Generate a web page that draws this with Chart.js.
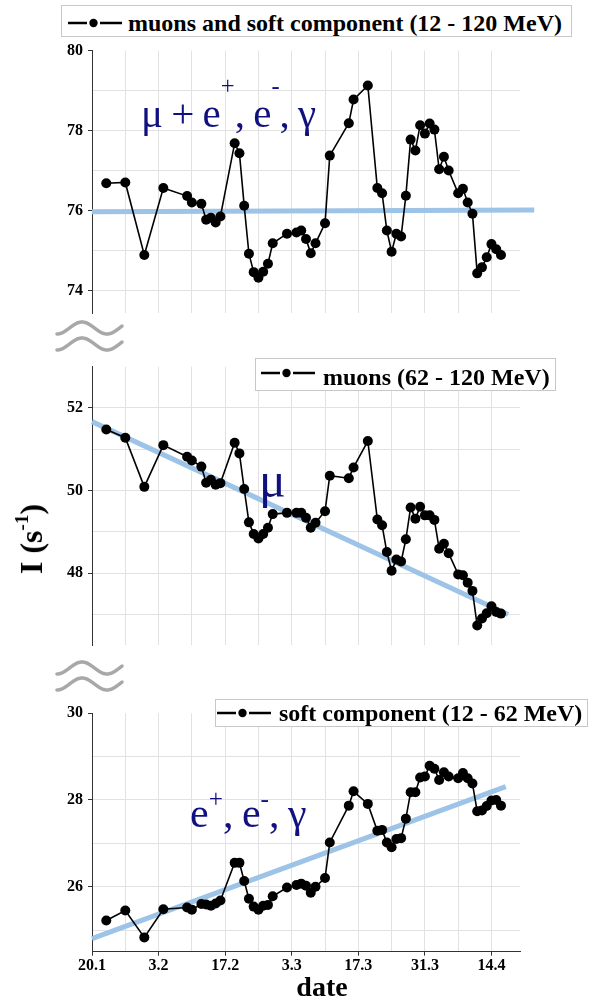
<!DOCTYPE html>
<html>
<head>
<meta charset="utf-8">
<script src="https://cdn.jsdelivr.net/npm/chart.js@4.4.1/dist/chart.umd.min.js"></script>
<style>
html,body{margin:0;padding:0;background:#fff;}
#wrap{position:relative;width:600px;height:1003px;overflow:hidden;font-family:"Liberation Serif","Times New Roman",serif;}
canvas{position:absolute;left:0;}
.lg{position:absolute;box-sizing:border-box;border:1px solid #c8c8c8;background:#fff;}
.lgt{position:absolute;font-weight:bold;font-size:24px;line-height:1;white-space:nowrap;color:#000;}
.sym{position:absolute;}
.ann{position:absolute;color:#10107f;font-family:"Liberation Serif","DejaVu Serif",serif;line-height:1;white-space:nowrap;word-spacing:-2px;}
.ann sup{font-size:0.6em;position:relative;vertical-align:baseline;line-height:0;}
#ytitle{position:absolute;left:31px;top:539px;transform:translate(-50%,-50%) rotate(-90deg);font-weight:bold;font-size:32px;line-height:1;white-space:nowrap;color:#000;}
#ytitle sup{font-size:0.6em;position:relative;top:-0.75em;vertical-align:baseline;line-height:0;}
#xtitle{position:absolute;left:322px;top:973px;transform:translateX(-50%);font-weight:bold;font-size:28px;line-height:1;color:#000;}
#breaks{position:absolute;left:0;top:0;}
</style>
</head>
<body>
<div id="wrap">
<canvas id="c1" width="600" height="330" style="top:0px"></canvas>
<canvas id="c2" width="600" height="320" style="top:340px"></canvas>
<canvas id="c3" width="600" height="343" style="top:660px"></canvas>
<svg id="breaks" width="600" height="1003"></svg>

<div class="lg" style="left:61px;top:5px;width:511px;height:32px"></div>
<svg class="sym" style="left:68px;top:17px" width="56" height="12"><line x1="0" y1="6" x2="19" y2="6" stroke="#000" stroke-width="2.5"/><circle cx="25.5" cy="6" r="4.2" fill="#000"/><line x1="32" y1="6" x2="54" y2="6" stroke="#000" stroke-width="2.5"/></svg>
<div class="lgt" id="lg1" style="left:128px;top:11px"></div>

<div class="lg" style="left:255px;top:358px;width:301px;height:33px"></div>
<svg class="sym" style="left:261px;top:367px" width="56" height="12"><line x1="0" y1="6" x2="19" y2="6" stroke="#000" stroke-width="2.5"/><circle cx="25.5" cy="6" r="4.2" fill="#000"/><line x1="32" y1="6" x2="54" y2="6" stroke="#000" stroke-width="2.5"/></svg>
<div class="lgt" id="lg2" style="left:323px;top:365px"></div>

<div class="lg" style="left:215px;top:699px;width:373px;height:28px"></div>
<svg class="sym" style="left:217px;top:707px" width="56" height="12"><line x1="0" y1="6" x2="19" y2="6" stroke="#000" stroke-width="2.5"/><circle cx="25.5" cy="6" r="4.2" fill="#000"/><line x1="32" y1="6" x2="54" y2="6" stroke="#000" stroke-width="2.5"/></svg>
<div class="lgt" id="lg3" style="left:279px;top:701px"></div>

<div class="ann" style="left:141px;top:93px;font-size:41px">μ + e<sup style="top:-1.35em">+</sup>, e<sup style="top:-1.35em">-</sup>, γ</div>
<div class="ann" style="left:259px;top:455px;font-size:50px">μ</div>
<div class="ann" style="left:190px;top:792px;font-size:42px">e<sup style="top:-0.8em">+</sup>, e<sup style="top:-0.8em">-</sup>, γ</div>

<div id="ytitle">I (s<sup>-1</sup>)</div>
<div id="xtitle">date</div>
</div>

<script>
// ---- data ----
const dateLabels = ['20.1', '3.2', '17.2', '3.3', '17.3', '31.3', '14.4'];
const seriesNames = ['muons and soft component (12 - 120 MeV)', 'muons (62 - 120 MeV)', 'soft component (12 - 62 MeV)'];

// day index counted from 20.1
const days = [3, 7, 11, 15, 20, 21, 23, 24, 25, 26, 27, 30, 31, 32, 33, 34, 35, 36, 37, 38,
  41, 43, 44, 45, 46, 47, 49, 50, 54, 55, 58, 60, 61, 62, 63, 64, 65, 66, 67, 68,
  69, 70, 71, 72, 73, 74, 75, 77, 78, 79, 80, 81, 82, 83, 84, 85, 86];

const muonsSoft = [76.69, 76.71, 74.90, 76.57, 76.37, 76.21, 76.18, 75.78, 75.83, 75.71, 75.86, 77.69, 77.44, 76.13, 74.93, 74.47, 74.33, 74.48, 74.68, 75.19,
  75.43, 75.46, 75.51, 75.30, 74.94, 75.19, 75.69, 77.38, 78.19, 78.78, 79.13, 76.57, 76.44, 75.51, 74.98, 75.43, 75.36, 76.38, 77.78, 77.51,
  78.14, 77.93, 78.18, 78.03, 77.04, 77.35, 77.01, 76.44, 76.55, 76.21, 75.93, 74.44, 74.59, 74.84, 75.17, 75.04, 74.90];

const muons = [51.48, 51.28, 50.09, 51.10, 50.82, 50.73, 50.58, 50.19, 50.26, 50.14, 50.18, 51.16, 50.90, 50.04, 49.23, 48.95, 48.84, 48.95, 49.10, 49.43,
  49.46, 49.46, 49.46, 49.34, 49.10, 49.22, 49.50, 50.36, 50.30, 50.56, 51.20, 49.30, 49.16, 48.51, 48.06, 48.33, 48.28, 48.82, 49.59, 49.32,
  49.61, 49.40, 49.40, 49.29, 48.59, 48.71, 48.48, 47.97, 47.95, 47.77, 47.57, 46.73, 46.90, 47.03, 47.20, 47.06, 47.02];

const soft = [25.22, 25.45, 24.83, 25.48, 25.52, 25.47, 25.60, 25.59, 25.56, 25.61, 25.68, 26.55, 26.55, 26.13, 25.72, 25.54, 25.47, 25.56, 25.58, 25.78,
  25.98, 26.04, 26.07, 26.02, 25.86, 26.00, 26.20, 27.02, 27.87, 28.20, 27.91, 27.29, 27.31, 27.02, 26.91, 27.10, 27.12, 27.57, 28.18, 28.18,
  28.52, 28.54, 28.79, 28.72, 28.46, 28.64, 28.54, 28.50, 28.62, 28.50, 28.38, 27.74, 27.76, 27.86, 27.99, 28.00, 27.87];

// trend lines (start / end)
const fitMuonsSoftX = [0, 93];
const fitMuonsSoftY = [75.98, 76.02];
const fitMuonsX = [0, 87.5];
const fitMuonsY = [51.67, 47.00];
const fitSoftX = [0, 87];
const fitSoftY = [24.80, 28.31];

// axis ranges
const xRange = [0, 90];
const yRangeMuonsSoft = [73.45, 80];
const yRangeMuons = [46.25, 53];
const yRangeSoft = [24.5, 30];

// ---- drawing ----
document.getElementById('lg1').textContent = seriesNames[0];
document.getElementById('lg2').textContent = seriesNames[1];
document.getElementById('lg3').textContent = seriesNames[2];

const GRID = '#e2e2e2';
const AX = '#333';
const tickFont = {family: 'Liberation Serif', weight: 'bold', size: 16};

function makeChart(id, vals, fx, fy, yr, showX, padTop, padBottom) {
  return new Chart(document.getElementById(id), {
    type: 'line',
    data: {
      datasets: [
        {
          label: 'data',
          data: days.map((d, i) => ({x: d, y: vals[i]})),
          borderColor: '#000', borderWidth: 1.6, tension: 0,
          pointRadius: 5, pointHoverRadius: 5, pointBackgroundColor: '#000', pointBorderWidth: 0
        },
        {
          label: 'fit',
          data: fx.map((d, i) => ({x: d, y: fy[i]})),
          borderColor: '#9dc3e6', borderWidth: 5, pointRadius: 0, tension: 0, clip: false
        }
      ]
    },
    options: {
      responsive: false, animation: false, events: [],
      layout: {padding: {left: 0, right: 80, top: padTop, bottom: padBottom}},
      plugins: {legend: {display: false}, tooltip: {enabled: false}},
      scales: {
        x: {
          type: 'linear', min: xRange[0], max: xRange[1],
          afterFit: s => { s.height = showX ? 30 : 0; },
          border: {display: showX, color: AX, width: 1},
          grid: {
            color: GRID, drawTicks: showX, tickLength: 4,
            tickColor: c => (c.tick && c.tick.value % 14 === 0) ? AX : 'transparent'
          },
          ticks: {
            display: showX, stepSize: 7, includeBounds: false, autoSkip: false, maxRotation: 0,
            padding: 1, color: '#000', font: tickFont,
            callback: v => (v % 14 === 0 ? dateLabels[v / 14] : '')
          }
        },
        y: {
          type: 'linear', min: yr[0], max: yr[1],
          afterFit: s => { s.width = 92; },
          border: {display: true, color: AX, width: 1},
          grid: {
            color: c => (c.tick && c.tick.value === yr[1]) ? 'transparent' : GRID,
            tickLength: 4,
            tickColor: c => (c.tick && c.tick.value % 2 === 0) ? AX : 'transparent'
          },
          ticks: {
            stepSize: 1, includeBounds: false, autoSkip: false, padding: 5, color: '#000', font: tickFont,
            callback: v => (v % 2 === 0 ? String(v) : '')
          }
        }
      }
    }
  });
}

makeChart('c1', muonsSoft, fitMuonsSoftX, fitMuonsSoftY, yRangeMuonsSoft, false, 50.7, 17);
makeChart('c2', muons, fitMuonsX, fitMuonsY, yRangeMuons, false, 26.7, 11.7);
makeChart('c3', soft, fitSoftX, fitSoftY, yRangeSoft, true, 53.3, 21.3);

// axis-break symbols (decoration)
function wave(cy) {
  let d = '';
  for (let x = 57; x <= 122; x += 1) {
    const y = cy + 6 * Math.cos(2 * Math.PI * (x - 57) / 50);
    d += (x === 57 ? 'M' : 'L') + x + ' ' + y.toFixed(2) + ' ';
  }
  return d;
}
const svg = document.getElementById('breaks');
[328, 344, 668, 684].forEach(cy => {
  const p = document.createElementNS('http://www.w3.org/2000/svg', 'path');
  p.setAttribute('d', wave(cy));
  p.setAttribute('fill', 'none');
  p.setAttribute('stroke', '#a8a8a8');
  p.setAttribute('stroke-width', '3.5');
  p.setAttribute('stroke-linecap', 'round');
  svg.appendChild(p);
});
</script>
</body>
</html>
